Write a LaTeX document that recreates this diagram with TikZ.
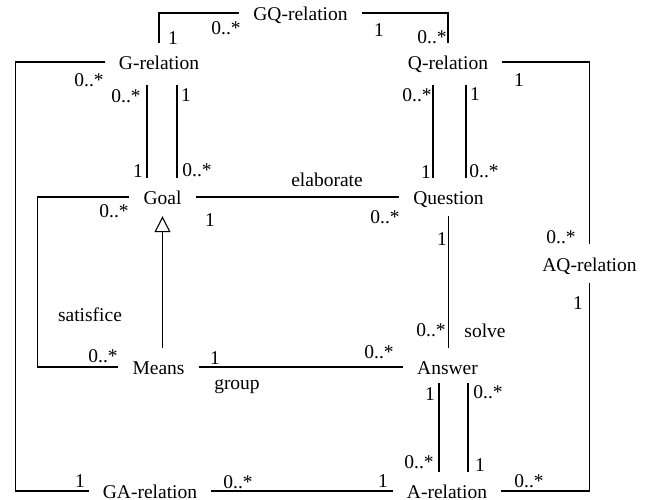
\documentclass[tikz,border=0pt]{standalone}
\usepackage{fontspec}
\setmainfont{Liberation Serif}
\newfontfamily\tnrfont{Liberation Serif}
\usetikzlibrary{arrows.meta}
\begin{document}
\begin{tikzpicture}[x=1pt,y=-1pt, font=\tnrfont\fontsize{19.5}{23}\selectfont,
  ent/.style={inner xsep=14pt, inner ysep=9.5pt, text height=17pt, text depth=2pt},
  lbl/.style={inner sep=0pt},
  conn/.style={line width=1.3pt},
  gen/.style={conn, -{Triangle[open, width=16pt, length=16pt, line width=1.1pt]}}]
\useasboundingbox (0,0) rectangle (650,500);
% entities
\node[ent] (GQ) at (300.5,13) {GQ-relation};
\node[ent] (Grel) at (159,62) {G-relation};
\node[ent] (Qrel) at (448,62) {Q-relation};
\node[ent] (Goal) at (162.5,197) {Goal};
\node[ent] (Question) at (448.5,197) {Question};
\node[ent] (Means) at (158.5,367) {Means};
\node[ent] (Answer) at (447.5,367) {Answer};
\node[ent] (GA) at (150,491) {GA-relation};
\node[ent] (Arel) at (447,491) {A-relation};
\node[ent] (AQ) at (589.5,263.5) {AQ-relation};
% connectors
\draw[conn] (GQ.west) -| (Grel.north);
\draw[conn] (GQ.east) -| (Qrel.north);
\draw[conn] (Grel.west) -- ++(-89,0) |- (GA.west);
\coordinate (g1) at ([xshift=-12pt,yshift=-4pt]Grel.south);
\coordinate (g2) at ([xshift=18pt,yshift=-4pt]Grel.south);
\draw[conn] (g1) -- (g1 |- Goal.north);
\draw[conn] (g2) -- (g2 |- Goal.north);
\coordinate (q1) at ([xshift=-15pt,yshift=-4pt]Qrel.south);
\coordinate (q2) at ([xshift=18pt,yshift=-4pt]Qrel.south);
\draw[conn] (q1) -- (q1 |- Question.north);
\draw[conn] (q2) -- (q2 |- Question.north);
\draw[conn] (Qrel.east) -| (AQ.north);
\draw[conn] (AQ.south) |- (Arel.east);
\draw[conn] (Goal.west) -- ++(-92,0) |- (Means.west);
\draw[conn] (Goal.east) -- (Question.west);
\draw[gen] (Means.north -| Goal.south) -- (Goal.south);
\draw[conn] (Means.east) -- (Answer.west);
\draw[conn] (Question.south) -- (Question.south |- Answer.north);
\coordinate (a1) at ([xshift=-8.5pt,yshift=3pt]Answer.south);
\coordinate (a2) at ([xshift=20.5pt,yshift=3pt]Answer.south);
\draw[conn] (a1) -- (a1 |- Arel.north);
\draw[conn] (a2) -- (a2 |- Arel.north);
\draw[conn] (GA.east) -- (Arel.west);
% labels
\node[lbl] (l1) at (173,38) {1};
\node[lbl] (l2) at (226,28) {0..*};
\node[lbl] (l3) at (379,30) {1};
\node[lbl] (l4) at (432,37) {0..*};
\node[lbl] (l5) at (89,80) {0..*};
\node[lbl] (l6) at (126,96) {0..*};
\node[lbl] (l7) at (186,95) {1};
\node[lbl] (l8) at (138,171) {1};
\node[lbl] (l9) at (197,170) {0..*};
\node[lbl] (l10) at (114,211) {0..*};
\node[lbl] (l11) at (210,220) {1};
\node[lbl] (elab) at (327,180) {elaborate};
\node[lbl] (l12) at (385,217) {0..*};
\node[lbl] (l13) at (417,95) {0..*};
\node[lbl] (l14) at (475,94) {1};
\node[lbl] (l15) at (426,172) {1};
\node[lbl] (l16) at (484,171) {0..*};
\node[lbl] (l17) at (519,80) {1};
\node[lbl] (l18) at (442,239) {1};
\node[lbl] (l19) at (561,237) {0..*};
\node[lbl] (l20) at (578,303) {1};
\node[lbl] (l21) at (431,330) {0..*};
\node[lbl] (solve) at (485,331) {solve};
\node[lbl] (l22) at (379,352) {0..*};
\node[lbl] (l23) at (430,394) {1};
\node[lbl] (l24) at (488,392) {0..*};
\node[lbl] (l25) at (419,462) {0..*};
\node[lbl] (l26) at (480,465) {1};
\node[lbl] (l27) at (529,481) {0..*};
\node[lbl] (l28) at (80,481) {1};
\node[lbl] (l29) at (238,482) {0..*};
\node[lbl] (l30) at (383,481) {1};
\node[lbl] (l31) at (103,356) {0..*};
\node[lbl] (l32) at (215,358) {1};
\node[lbl] (grp) at (237,387) {group};
\node[lbl] (sat) at (90,315) {satisfice};
\end{tikzpicture}
\end{document}
